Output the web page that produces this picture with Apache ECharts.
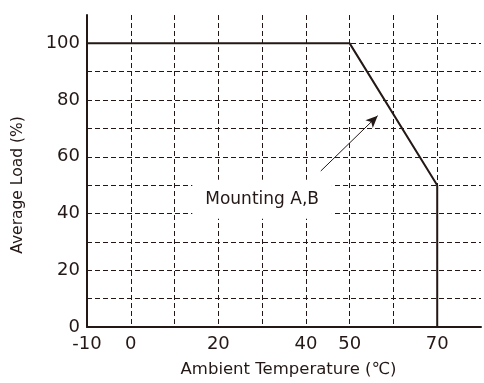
<!DOCTYPE html>
<html>
<head>
<meta charset="utf-8">
<script src="https://cdn.jsdelivr.net/npm/echarts@6/dist/echarts.min.js"></script>
<style>
  html, body { margin: 0; padding: 0; background: #fff; }
  #main { width: 484px; height: 383px; }
</style>
</head>
<body>
<div id="main"></div>
<script>
// derating curve
var tempX = [-10, 50, 70, 70];
var loadY = [100, 100, 50, 0];

var xTickLabels = [-10, 0, 20, 40, 50, 70];
var yTickLabels = [0, 20, 40, 60, 80, 100];

var noteText = 'Mounting A,B';
var notePos = [30, 45];
var arrowFrom = [43.4, 55];
var arrowTo = [56.4, 74.5];

var ink = '#231815';
var font = 'DejaVu Sans';

var points = tempX.map(function (t, i) { return [t, loadY[i]]; });

var myChart = echarts.init(document.getElementById('main'));
var option = {
    animation: false,
    grid: { left: 87, right: 0, top: 15, bottom: 53 },
    xAxis: {
        type: 'value',
        min: -10,
        max: 80,
        interval: 10,
        name: 'Ambient Temperature (℃)',
        nameLocation: 'middle',
        nameGap: 34,
        nameTextStyle: { color: ink, fontFamily: font, fontSize: 16.5, padding: [0, 0, 0, 9] },
        axisLine: { onZero: false, lineStyle: { color: ink, width: 2 } },
        axisTick: { show: false },
        axisLabel: {
            margin: 8,
            color: ink, fontFamily: font, fontSize: 18,
            formatter: function (v) { return xTickLabels.indexOf(v) >= 0 ? String(v) : ''; }
        },
        splitLine: {
            show: true, showMinLine: false, showMaxLine: false,
            lineStyle: { color: ink, width: 1, type: [5, 3] }
        }
    },
    yAxis: {
        type: 'value',
        min: 0,
        max: 110,
        interval: 10,
        name: 'Average Load (%)',
        nameLocation: 'middle',
        nameGap: 61,
        nameTextStyle: { color: ink, fontFamily: font, fontSize: 15.5, padding: [0, 28, 0, 0] },
        axisLine: { show: true, onZero: false, lineStyle: { color: ink, width: 2 } },
        axisTick: { show: false },
        axisLabel: {
            margin: 7,
            color: ink, fontFamily: font, fontSize: 18,
            formatter: function (v) { return yTickLabels.indexOf(v) >= 0 ? String(v) : ''; }
        },
        splitLine: {
            show: true, showMinLine: false, showMaxLine: false,
            lineStyle: { color: ink, width: 1, type: [5, 3] }
        }
    },
    series: [{
        type: 'line',
        data: points,
        symbol: 'none',
        lineStyle: { color: ink, width: 2 },
        markPoint: {
            symbol: 'rect',
            symbolSize: 0,
            silent: true,
            data: [{ coord: notePos, value: noteText }],
            label: {
                show: true,
                position: 'inside',
                formatter: noteText,
                color: ink,
                fontFamily: font,
                fontSize: 17,
                backgroundColor: '#fff',
                padding: [11, 13, 11, 13]
            }
        },
        markLine: {
            silent: true,
            symbol: ['none', 'arrow'],
            symbolSize: [8, 12],
            label: { show: false },
            lineStyle: { color: ink, width: 1, type: 'solid' },
            data: [[{ coord: arrowFrom }, { coord: arrowTo }]]
        }
    }]
};
myChart.setOption(option);
</script>
</body>
</html>
